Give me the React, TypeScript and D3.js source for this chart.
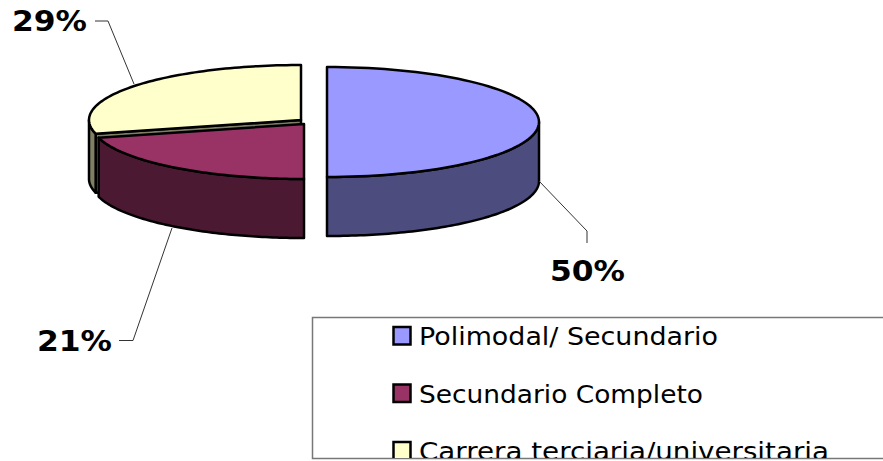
import React from "react";
import * as d3 from "d3";

const categories = ["Polimodal/ Secundario", "Secundario Completo", "Carrera terciaria/universitaria"];
const shares = [50, 21, 29];
const pctLabels = ["50%", "21%", "29%"];
const topColors = ["#9999ff", "#993366", "#ffffcc"];
const sideColors = ["#4c4c7f", "#4c1933", "#7f7f66"];

const RX = 212;
const RY = 55;
const DEPTH = 59;
// exploded slice centres
const centers: [number, number][] = [[327, 122], [304, 124], [301, 120]];
const labelPos: [number, number][] = [[550, 280.5], [37, 350.5], [12, 31]];
const legendWidths = [299, 284, 410];
const leaders: [number, number][][] = [
  [[539, 181], [587, 231], [587, 243]],
  [[172, 228], [133, 340.5], [119, 340.5]],
  [[134, 84], [108, 21], [95, 21]],
];

const pie = d3.pie<number>().sort(null).value((d) => d);
const arcs = pie(shares);
const leaderLine = d3.line();

const pt = (c: [number, number], a: number, dy = 0): [number, number] => [
  c[0] + RX * Math.sin(a),
  c[1] - RY * Math.cos(a) + dy,
];

const sweep = (a0: number, a1: number) => {
  const n = 80;
  const s = d3.scaleLinear().domain([0, n]).range([a0, a1]);
  return d3.range(n + 1).map((i) => s(i));
};

const topPath = (c: [number, number], a0: number, a1: number) =>
  d3.line()([c, ...sweep(a0, a1).map((a) => pt(c, a))]) + "Z";

// outer wall, only the part that faces the viewer (90deg to 270deg)
const wallPath = (c: [number, number], a0: number, a1: number) => {
  const from = Math.max(a0, Math.PI / 2);
  const to = Math.min(a1, (3 * Math.PI) / 2);
  if (to <= from) return "";
  const angles = sweep(from, to);
  return (
    d3.line()([
      ...angles.map((a) => pt(c, a)),
      ...angles.slice().reverse().map((a) => pt(c, a, DEPTH)),
    ]) + "Z"
  );
};

const cutPath = (c: [number, number], a: number) =>
  d3.line()([c, pt(c, a), pt(c, a, DEPTH), [c[0], c[1] + DEPTH]]) + "Z";

const font = "Verdana, 'DejaVu Sans', sans-serif";

export default function App() {
  const order = [2, 1, 0];
  return (
    <svg width={883} height={461} style={{ position: "absolute", left: 0, top: 0, background: "#fff" }}>
      <defs>
        <clipPath id="legend-clip">
          <rect x={300} y={310} width={583} height={148} />
        </clipPath>
      </defs>
      {order.map((i) => {
        const c = centers[i];
        const d = arcs[i];
        return (
          <g key={i} stroke="#000" strokeWidth={2.5} strokeLinejoin="round">
            {i === 2 && <path d={cutPath(c, d.startAngle)} fill={sideColors[i]} />}
            <path d={wallPath(c, d.startAngle, d.endAngle)} fill={sideColors[i]} />
            <path d={topPath(c, d.startAngle, d.endAngle)} fill={topColors[i]} />
          </g>
        );
      })}
      {leaders.map((l, i) => (
        <path key={i} d={leaderLine(l) ?? ""} fill="none" stroke="#333" strokeWidth={1} />
      ))}
      {pctLabels.map((t, i) => (
        <text
          key={t}
          x={labelPos[i][0]}
          y={labelPos[i][1]}
          fontFamily={font}
          fontWeight="bold"
          fontSize={28}
          textLength={75}
          lengthAdjust="spacingAndGlyphs"
          fill="#000"
        >
          {t}
        </text>
      ))}
      <rect x={312.5} y={317.5} width={600} height={141} fill="none" stroke="#777" strokeWidth={1.5} />
      <g clipPath="url(#legend-clip)">
        {categories.map((t, i) => (
          <g key={t} transform={`translate(0,${57.5 * i})`}>
            <rect x={393.5} y={327} width={17} height={17.5} fill={topColors[i]} stroke="#000" strokeWidth={2.5} />
            <text
              x={419}
              y={345}
              fontFamily={font}
              fontSize={25.5}
              textLength={legendWidths[i]}
              lengthAdjust="spacingAndGlyphs"
              fill="#000"
            >
              {t}
            </text>
          </g>
        ))}
      </g>
    </svg>
  );
}
